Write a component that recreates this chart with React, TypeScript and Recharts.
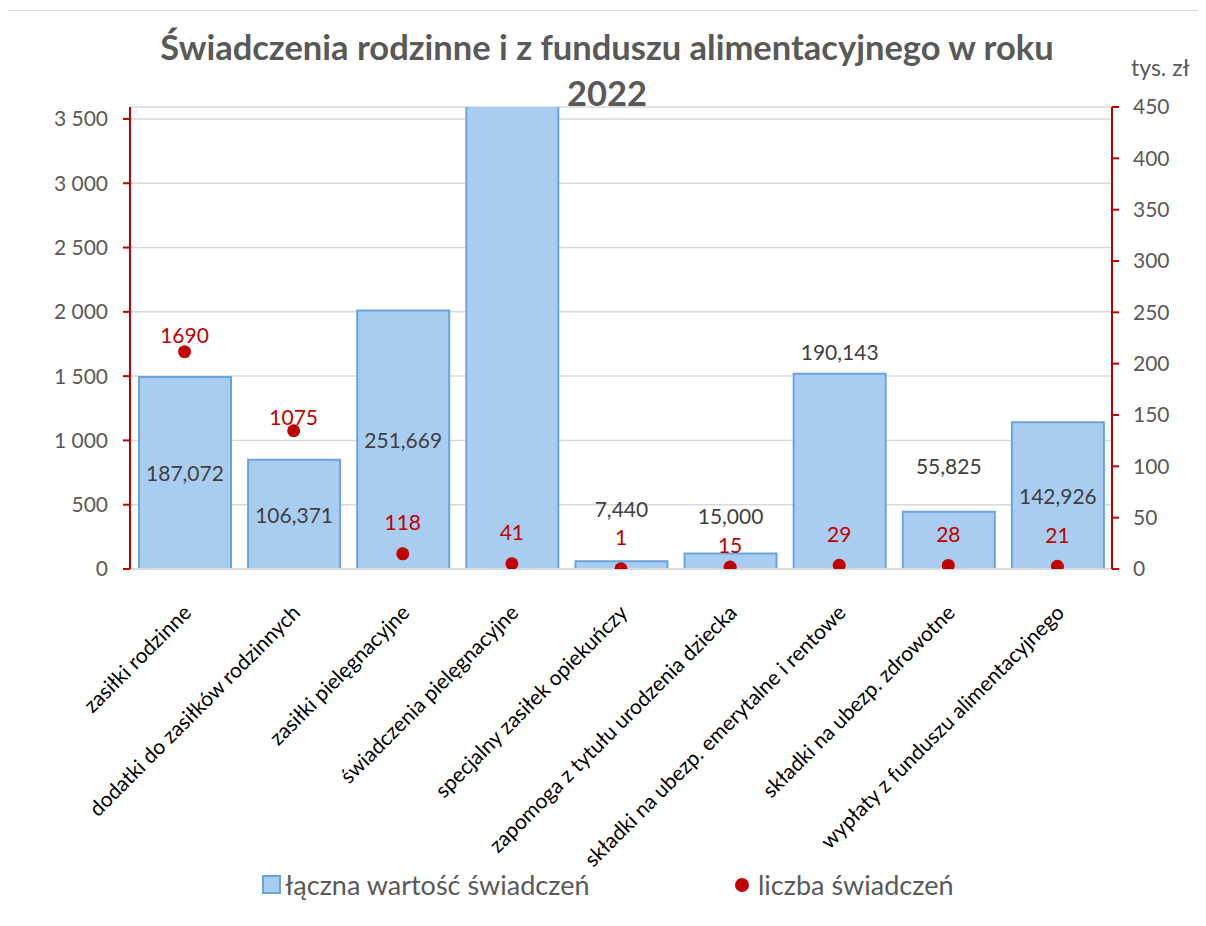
import React from 'react';
import { ComposedChart, Bar, Line, XAxis, YAxis, CartesianGrid, LabelList, Legend } from 'recharts';

const categories: string[] = [
  'zasiłki rodzinne',
  'dodatki do zasiłków rodzinnych',
  'zasiłki pielęgnacyjne',
  'świadczenia pielęgnacyjne',
  'specjalny zasiłek opiekuńczy',
  'zapomoga z tytułu urodzenia dziecka',
  'składki na ubezp. emerytalne i rentowe',
  'składki na ubezp. zdrowotne',
  'wypłaty z funduszu alimentacyjnego',
];

// łączna wartość świadczeń (right axis, tys. zł)
const totalValue: number[] = [187.072, 106.371, 251.669, 472, 7.44, 15.0, 190.143, 55.825, 142.926];
// liczba świadczeń (left axis)
const benefitCount: number[] = [1690, 1075, 118, 41, 1, 15, 29, 28, 21];

const leftTicks: number[] = [0, 500, 1000, 1500, 2000, 2500, 3000, 3500];
const rightTicks: number[] = [0, 50, 100, 150, 200, 250, 300, 350, 400, 450];

const seriesNames = { total: 'łączna wartość świadczeń', count: 'liczba świadczeń' };
const titleLine1 = 'Świadczenia rodzinne i z funduszu alimentacyjnego w roku';
const titleLine2 = '2022';
const unitLabel = 'tys. zł';

// label layout tweaks (pixels above mark; null = centered in bar)
const valueLabelLift: (number | null)[] = [null, null, null, null, 53, 38, 22, 46, null];
const countLabelLift: number[] = [17, 14, 32, 32, 32, 23, 32, 32, 32];

const LEFT_MAX = 3593;
const RIGHT_MAX = 450;

const FONT = 'Lato, "Open Sans", "Noto Sans", sans-serif';
const RED = '#C00000';
const BAR_FILL = '#A9CDF1';
const BAR_STROKE = '#6AA4DD';
const GRID = '#D9D9D9';
const AXIS_TEXT = '#595959';

const data = categories.map((c, i) => ({ category: c, total: totalValue[i], count: benefitCount[i] }));

const fmtThousands = (v: number) => String(v).replace(/\B(?=(\d{3})+(?!\d))/g, ' ');
const fmtDecimal = (v: number) => v.toFixed(3).replace('.', ',');

const CategoryTick = (props: any) => {
  const { x, y, payload } = props;
  const ax = x + 8;
  const ay = y + 45;
  return (
    <text
      x={ax}
      y={ay}
      transform={`rotate(-45 ${ax} ${ay})`}
      textAnchor="end"
      fontSize={21}
      fontFamily={FONT}
      fill="#000000"
    >
      {payload.value}
    </text>
  );
};

const renderValueLabel = (props: any) => {
  const { x, y, width, height, value, index } = props;
  const v = Number(value);
  if (v > RIGHT_MAX) return null;
  const i = typeof index === 'number' ? index : totalValue.indexOf(v);
  const lift = valueLabelLift[i];
  const cx = Number(x) + Number(width) / 2;
  const cy = lift == null ? Number(y) + Number(height) / 2 : Number(y) - lift;
  return (
    <text x={cx} y={cy} textAnchor="middle" dominantBaseline="central" fill="#404040" fontSize={21} fontFamily={FONT}>
      {fmtDecimal(v)}
    </text>
  );
};

const renderCountLabel = (props: any) => {
  const { x, y, value, index } = props;
  const v = Number(value);
  const i = typeof index === 'number' ? index : benefitCount.indexOf(v);
  return (
    <text x={Number(x)} y={Number(y) - countLabelLift[i]} textAnchor="middle" dominantBaseline="central" fill={RED} fontSize={21} fontFamily={FONT}>
      {v}
    </text>
  );
};

const LegendContent = () => (
  <div style={{ position: 'relative', height: 30, width: 1190, fontFamily: FONT, fontSize: 27, color: AXIS_TEXT }}>
    <div style={{ position: 'absolute', left: 254, top: 5, width: 19, height: 19, boxSizing: 'border-box', background: BAR_FILL, border: `2px solid ${BAR_STROKE}` }} />
    <div style={{ position: 'absolute', left: 277, top: 0, height: 30, lineHeight: '30px', whiteSpace: 'nowrap' }}>{seriesNames.total}</div>
    <div style={{ position: 'absolute', left: 727, top: 8, width: 14, height: 14, borderRadius: 7, background: RED }} />
    <div style={{ position: 'absolute', left: 750, top: 0, height: 30, lineHeight: '30px', whiteSpace: 'nowrap' }}>{seriesNames.count}</div>
  </div>
);

export default function App() {
  return (
    <div style={{ position: 'relative', width: 1190, height: 910, overflow: 'hidden', fontFamily: FONT }}>
      <div
        style={{
          position: 'absolute',
          left: -1,
          top: 2,
          width: 1300,
          height: 1000,
          border: `1px solid ${GRID}`,
          boxSizing: 'border-box',
        }}
      />
      <div
        style={{
          position: 'absolute',
          left: 0,
          top: 16,
          width: 1198,
          textAlign: 'center',
          fontFamily: FONT,
          fontWeight: 700,
          fontSize: 34.5,
          lineHeight: '46px',
          color: AXIS_TEXT,
          whiteSpace: 'nowrap',
        }}
      >
        {titleLine1}
        <br />
        {titleLine2}
      </div>
      <div style={{ position: 'absolute', left: 1123, top: 45, fontSize: 23, color: AXIS_TEXT, whiteSpace: 'nowrap' }}>
        {unitLabel}
      </div>
      <ComposedChart
        width={1190}
        height={910}
        data={data}
        margin={{ top: 99, right: 26, bottom: 18, left: 0 }}
        style={{ position: 'absolute', left: 0, top: 0 }}
      >
        <CartesianGrid yAxisId="left" vertical={false} stroke={GRID} strokeWidth={1.5} />
        <XAxis
          dataKey="category"
          interval={0}
          height={301}
          tickLine={false}
          tickSize={0}
          tickMargin={0}
          axisLine={{ stroke: GRID, strokeWidth: 2 }}
          tick={<CategoryTick />}
        />
        <YAxis
          yAxisId="left"
          orientation="left"
          domain={[0, LEFT_MAX]}
          ticks={leftTicks}
          allowDataOverflow
          width={122}
          axisLine={{ stroke: RED, strokeWidth: 2 }}
          tickLine={{ stroke: RED, strokeWidth: 2 }}
          tickSize={7}
          tickMargin={15}
          tick={{ fill: AXIS_TEXT, fontSize: 21, fontFamily: FONT }}
          tickFormatter={fmtThousands}
        />
        <YAxis
          yAxisId="right"
          orientation="right"
          domain={[0, RIGHT_MAX]}
          ticks={rightTicks}
          allowDataOverflow
          width={60}
          axisLine={{ stroke: RED, strokeWidth: 2 }}
          tickLine={{ stroke: RED, strokeWidth: 2 }}
          tickSize={7}
          tickMargin={14}
          tick={{ fill: AXIS_TEXT, fontSize: 21, fontFamily: FONT, textAnchor: 'start' }}
        />
        <Legend verticalAlign="bottom" align="left" content={<LegendContent />} />
        <Bar
          yAxisId="right"
          dataKey="total"
          name={seriesNames.total}
          fill={BAR_FILL}
          stroke={BAR_STROKE}
          strokeWidth={2}
          barSize={92}
          isAnimationActive={false}
        >
          <LabelList dataKey="total" content={renderValueLabel} />
        </Bar>
        <Line
          yAxisId="left"
          dataKey="count"
          name={seriesNames.count}
          stroke="none"
          strokeWidth={0}
          dot={{ r: 6.5, fill: RED, stroke: RED, strokeWidth: 0 }}
          activeDot={false}
          isAnimationActive={false}
          legendType="circle"
        >
          <LabelList dataKey="count" content={renderCountLabel} />
        </Line>
      </ComposedChart>
    </div>
  );
}
